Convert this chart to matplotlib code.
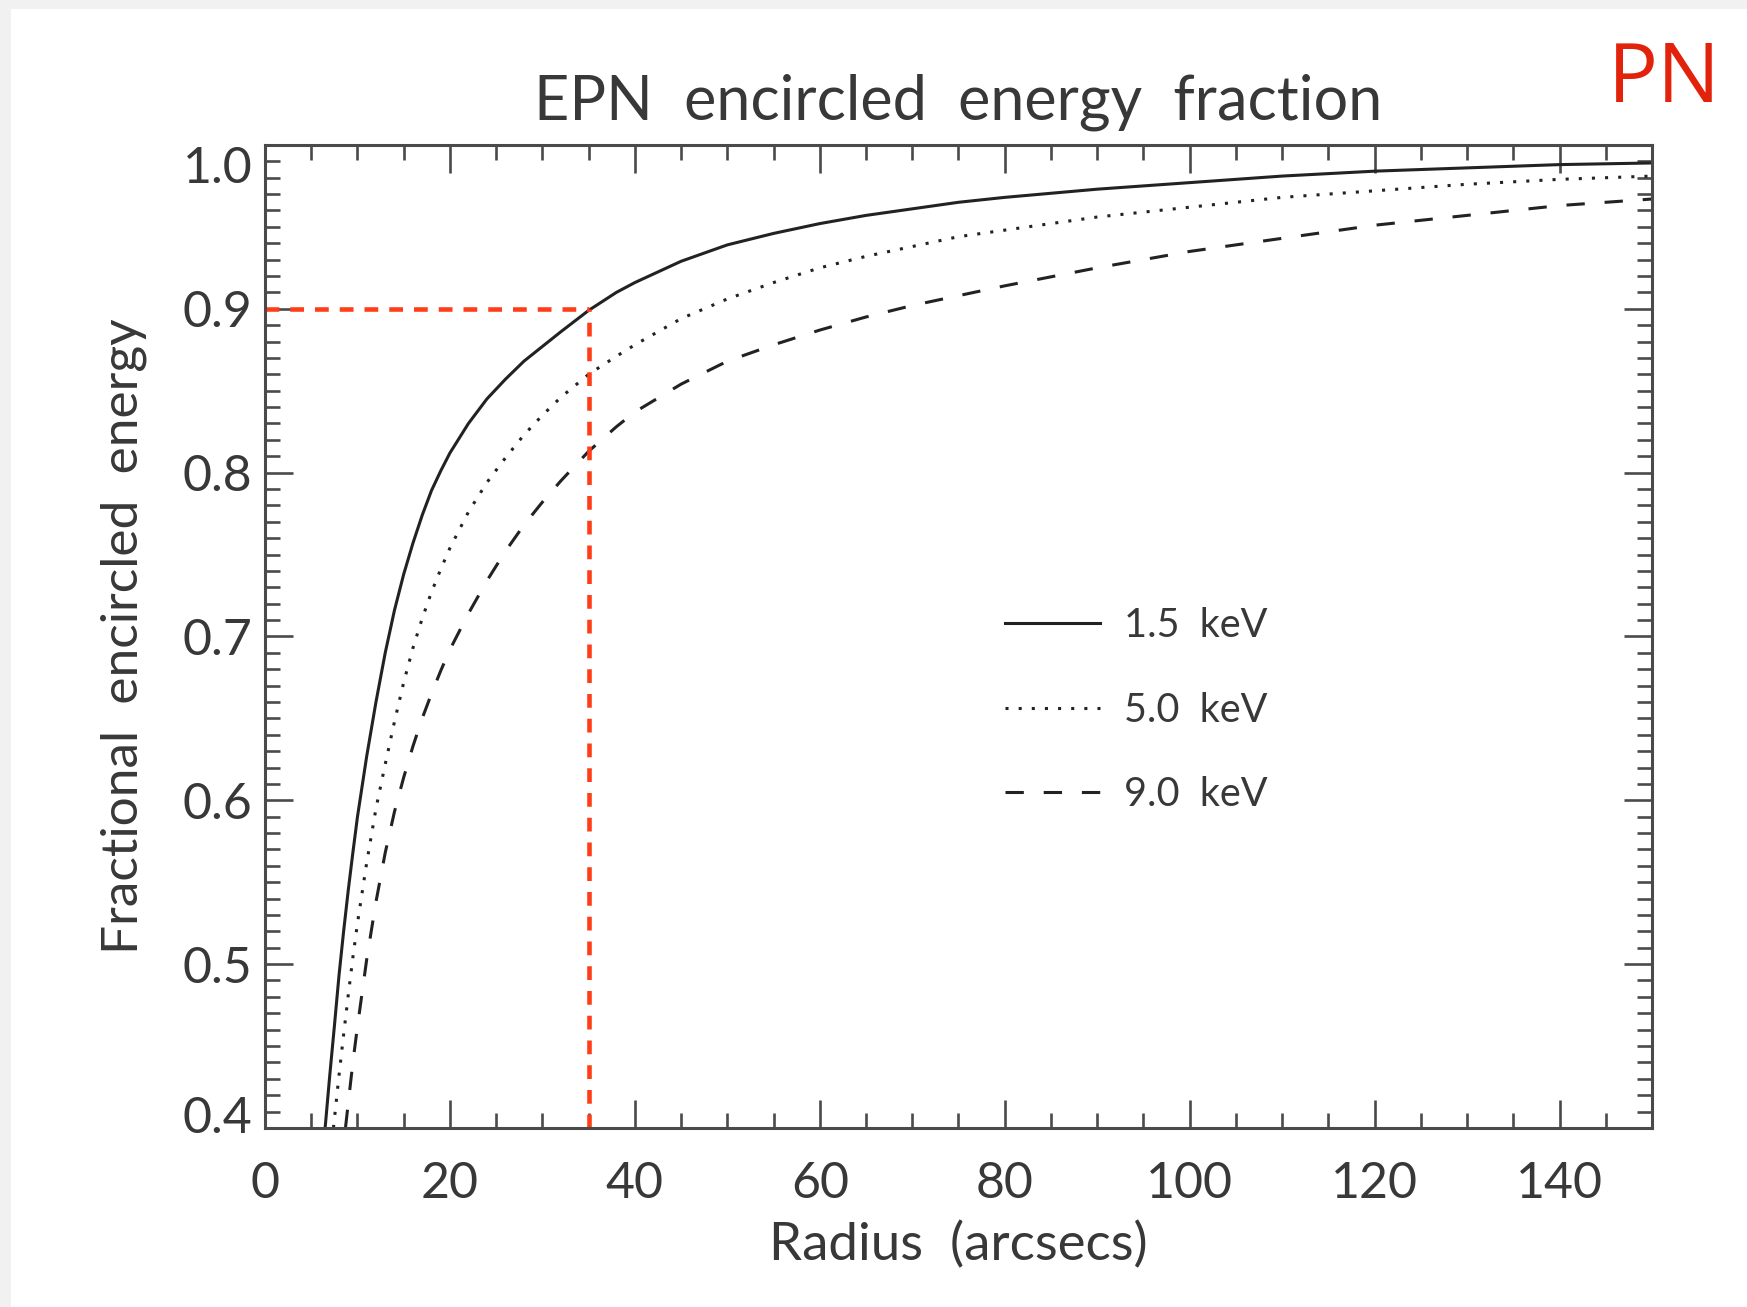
import matplotlib
matplotlib.use('Agg')
import matplotlib.pyplot as plt
from matplotlib.ticker import MultipleLocator, FixedLocator
from matplotlib.patches import Rectangle
from matplotlib.transforms import ScaledTranslation

# radius (arcsec) and encircled energy fraction
r_15 = [6.5, 7.0, 7.5, 8.0, 8.5, 9.0, 9.5, 10.0, 11.0, 12.0, 13.0, 14.0, 15.0,
        16.0, 17.0, 18.0, 19.0, 20.0, 22.0, 24.0, 26.0, 28.0, 30.0, 32.0, 35.0,
        38.0, 40.0, 45.0, 50.0, 55.0, 60.0, 65.0, 70.0, 75.0, 80.0, 90.0, 100.0,
        110.0, 120.0, 130.0, 140.0, 150.0]
ee_15 = [0.400, 0.432, 0.462, 0.493, 0.520, 0.545, 0.568, 0.590, 0.627, 0.660,
         0.690, 0.716, 0.738, 0.757, 0.774, 0.789, 0.801, 0.812, 0.830, 0.845,
         0.857, 0.868, 0.877, 0.886, 0.899, 0.910, 0.916, 0.929, 0.939, 0.946,
         0.952, 0.957, 0.961, 0.965, 0.968, 0.973, 0.977, 0.981, 0.984, 0.986,
         0.988, 0.989]

r_50 = [7.4, 8.0, 8.5, 9.0, 9.5, 10.0, 11.0, 12.0, 13.0, 14.0, 15.0, 16.0, 17.0,
        18.0, 19.0, 20.0, 22.0, 24.0, 26.0, 28.0, 30.0, 32.0, 35.0, 38.0, 40.0,
        45.0, 50.0, 55.0, 60.0, 65.0, 70.0, 75.0, 80.0, 90.0, 100.0, 110.0, 120.0,
        130.0, 140.0, 150.0]
ee_50 = [0.400, 0.432, 0.457, 0.481, 0.504, 0.525, 0.562, 0.595, 0.622, 0.648,
         0.672, 0.693, 0.711, 0.727, 0.741, 0.754, 0.776, 0.794, 0.809, 0.823,
         0.835, 0.846, 0.860, 0.871, 0.878, 0.894, 0.906, 0.916, 0.925, 0.932,
         0.938, 0.944, 0.948, 0.956, 0.962, 0.968, 0.972, 0.976, 0.979, 0.981]

r_90 = [8.7, 9.0, 9.5, 10.0, 11.0, 12.0, 13.0, 14.0, 15.0, 16.0, 17.0, 18.0, 19.0,
        20.0, 21.0, 22.0, 24.0, 26.0, 28.0, 30.0, 32.0, 35.0, 38.0, 40.0, 45.0,
        50.0, 55.0, 60.0, 65.0, 70.0, 75.0, 80.0, 90.0, 100.0, 110.0, 120.0, 130.0,
        140.0, 150.0]
ee_90 = [0.400, 0.415, 0.440, 0.462, 0.503, 0.538, 0.568, 0.593, 0.614, 0.633,
         0.650, 0.665, 0.679, 0.692, 0.703, 0.714, 0.734, 0.752, 0.768, 0.782,
         0.795, 0.813, 0.828, 0.837, 0.854, 0.868, 0.878, 0.887, 0.895, 0.902,
         0.908, 0.914, 0.925, 0.935, 0.943, 0.951, 0.957, 0.963, 0.967]

labels = ['1.5  keV', '5.0  keV', '9.0  keV']
y_ticks = [0.4, 0.5, 0.6, 0.7, 0.8, 0.9, 1.0]

# 90% radius marker
cut_radius = 35
cut_frac = 0.9

plt.rcParams['font.family'] = ['Lato', 'DejaVu Sans']
txt = '#383838'
frame = '#4a4a4a'
ink = '#222222'

fig = plt.figure(figsize=(17.47, 13.07), dpi=100, facecolor='#f1f1f1')
fig.patches.append(Rectangle((11 / 1747, 0), 1, 1 - 9 / 1307, transform=fig.transFigure,
                             facecolor='white', edgecolor='none', zorder=-10))

ax = fig.add_axes([0.1517, 0.137, 0.7939, 0.7521])
ax.set_zorder(5)
ax.set_xlim(0, 150)
ax.set_ylim(0.4, 1.0)

ax.plot(r_15, ee_15, color=ink, lw=2.2, ls='-', label=labels[0])
ax.plot(r_50, ee_50, color=ink, lw=2.2, ls=(0, (1.0, 3.3)), label=labels[1])
ax.plot(r_90, ee_90, color=ink, lw=2.2, ls=(0, (6.0, 6.5)), label=labels[2])

red = '#ff3d17'
ax.plot([0, cut_radius], [cut_frac, cut_frac], color=red, lw=3.3, ls=(0, (3.0, 2.4)))
ax.plot([cut_radius, cut_radius], [0.4, cut_frac], color=red, lw=3.3, ls=(0, (3.0, 2.4)))

ax.xaxis.set_major_locator(MultipleLocator(20))
ax.xaxis.set_minor_locator(MultipleLocator(5))
ax.yaxis.set_major_locator(FixedLocator(y_ticks))
ax.yaxis.set_minor_locator(MultipleLocator(0.01))
ax.set_yticklabels(['%.1f' % v for v in y_ticks])

ax.tick_params(which='both', direction='in', top=True, right=True,
               color=frame, width=1.9, labelcolor=txt, labelsize=36)
ax.tick_params(which='major', length=20)
ax.tick_params(which='minor', length=10.5)
ax.tick_params(axis='x', which='major', pad=24)
ax.tick_params(axis='y', which='major', pad=9)
for s in ax.spines.values():
    s.set_color(frame)
    s.set_linewidth(2.2)

# end labels sit inside the axis range, like the original
yt = ax.yaxis.get_major_ticks()
lab0 = yt[0].label1
lab0.set_transform(lab0.get_transform() + ScaledTranslation(0, 0.13, fig.dpi_scale_trans))
lab1 = yt[-1].label1
lab1.set_transform(lab1.get_transform() + ScaledTranslation(0, -0.20, fig.dpi_scale_trans))

ax.set_title('EPN  encircled  energy  fraction', fontsize=44, color=txt, pad=18)
ax.set_xlabel('Radius  (arcsecs)', fontsize=38, color=txt, labelpad=10)
ax.set_ylabel('Fractional  encircled  energy', fontsize=37, color=txt, labelpad=26)

leg = ax.legend(loc='upper left', bbox_to_anchor=(0.508, 0.566), frameon=False,
                fontsize=28.5, handlelength=2.4, handletextpad=0.6, labelspacing=1.2,
                labelcolor=txt)

fig.text(0.985, 0.938, 'PN', color='#e3220b', fontsize=60, ha='right', va='center',
         family=['Open Sans', 'DejaVu Sans'])

plt.savefig('out.png', dpi=100, facecolor=fig.get_facecolor())
